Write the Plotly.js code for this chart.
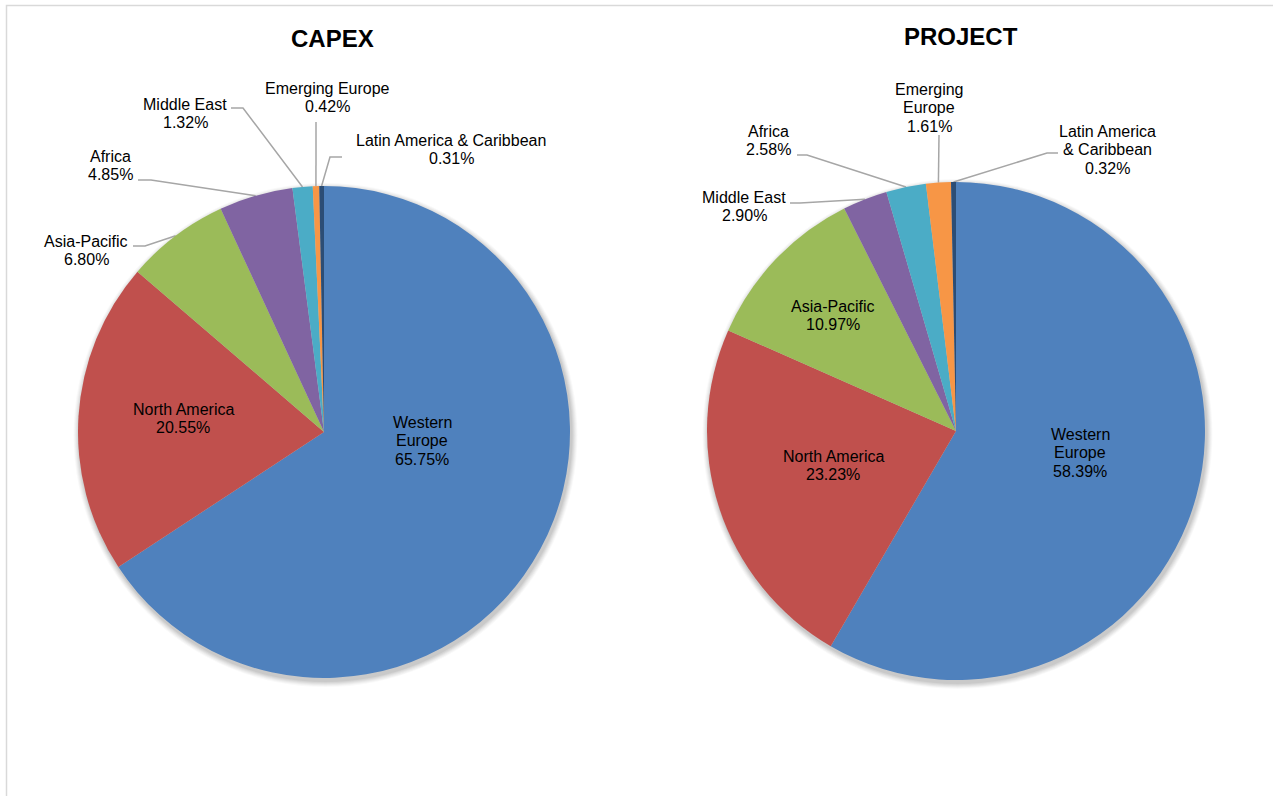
<!DOCTYPE html>
<html><head><meta charset="utf-8">
<script src="https://cdn.plot.ly/plotly-3.0.1.min.js"></script>
<style>html,body{margin:0;padding:0;background:#fff;overflow:hidden}#chart{width:1273px;height:796px;}</style>
</head><body><div id="chart"></div>
<script>
// ---------------- DATA ----------------
const chartTitles = ['CAPEX', 'PROJECT'];
const capexRegions = ['Western Europe', 'North America', 'Asia-Pacific', 'Africa', 'Middle East', 'Emerging Europe', 'Latin America & Caribbean'];
const capexShares = [65.75, 20.55, 6.80, 4.85, 1.32, 0.42, 0.31];
const projectRegions = ['Western Europe', 'North America', 'Asia-Pacific', 'Middle East', 'Africa', 'Emerging Europe', 'Latin America & Caribbean'];
const projectShares = [58.39, 23.23, 10.97, 2.90, 2.58, 1.61, 0.32];
// how each label's name is broken into lines
const capexLabelLines = [['Western', 'Europe'], ['North America'], ['Asia-Pacific'], ['Africa'], ['Middle East'], ['Emerging Europe'], ['Latin America & Caribbean']];
const projectLabelLines = [['Western', 'Europe'], ['North America'], ['Asia-Pacific'], ['Middle East'], ['Africa'], ['Emerging', 'Europe'], ['Latin America', '& Caribbean']];

// ---------------- STYLE / LAYOUT ----------------
const W = 1273, H = 796;
const sliceColors = ['#4F81BD', '#C0504D', '#9BBB59', '#8064A2', '#4BACC6', '#F79646', '#2C4D75'];
const FONT = 'Liberation Sans, Arial, sans-serif';
const LINE_H = 18.5;
const pieLayouts = [
  { cx: 324, cy: 432, r: 246, titleX: 332, titleY: 38,
    labelPos: [
      { x: 422, y: 422 },
      { x: 183, y: 409 },
      { x: 86, y: 241, leader: [[133, 246], [145, 246]] },
      { x: 110, y: 156, leader: [[138, 180], [151, 180]] },
      { x: 185, y: 104, leader: [[231, 108], [243, 108]] },
      { x: 327, y: 88, leader: [[316, 122]] },
      { x: 451, y: 140, leader: [[342, 157], [330, 157]] }
    ] },
  { cx: 956, cy: 431, r: 249, titleX: 961, titleY: 36,
    labelPos: [
      { x: 1080, y: 434 },
      { x: 833, y: 456 },
      { x: 833, y: 306 },
      { x: 744, y: 197, leader: [[790, 203], [800, 203]] },
      { x: 768, y: 131, leader: [[797, 155], [807, 155]] },
      { x: 929, y: 89, leader: [[939, 135]] },
      { x: 1107, y: 131, leader: [[1058, 153], [1047, 153]] }
    ] }
];

const datasets = [
  { labels: capexRegions, values: capexShares, lines: capexLabelLines },
  { labels: projectRegions, values: projectShares, lines: projectLabelLines }
];

const traces = [];
const annotations = [];
const shapes = [];

// chart border (left and top edges visible)
shapes.push({ type: 'path', xref: 'x', yref: 'y', path: `M 6.5 ${H} L 6.5 5.5 L ${W} 5.5`, line: { color: '#D9D9D9', width: 1.5 }, layer: 'below' });

datasets.forEach((ds, k) => {
  const L = pieLayouts[k];
  // soft shadow under the pie
  [[6, 0.025], [5, 0.03], [4, 0.035], [3, 0.04], [2, 0.045], [1, 0.05]].forEach(([g, op]) => {
    shapes.push({ type: 'circle', xref: 'x', yref: 'y', layer: 'below',
      x0: L.cx - L.r - g + 1.5, x1: L.cx + L.r + g + 1.5, y0: L.cy - L.r - g + 3, y1: L.cy + L.r + g + 3,
      fillcolor: `rgba(0,0,0,${op})`, line: { width: 0 } });
  });
  traces.push({
    type: 'pie', labels: ds.labels, values: ds.values, sort: false, direction: 'clockwise', rotation: 0,
    marker: { colors: sliceColors, line: { width: 0 } }, textinfo: 'none', hoverinfo: 'label+percent',
    showlegend: false,
    domain: { x: [(L.cx - L.r) / W, (L.cx + L.r) / W], y: [1 - (L.cy + L.r) / H, 1 - (L.cy - L.r) / H] }
  });
  annotations.push({ xref: 'x', yref: 'y', x: L.titleX, y: L.titleY, text: '<b>' + chartTitles[k] + '</b>', showarrow: false,
    xanchor: 'center', yanchor: 'middle', font: { family: FONT, size: 24, color: '#000' } });
  const total = ds.values.reduce((a, b) => a + b, 0);
  let cum = 0;
  ds.values.forEach((v, i) => {
    const mid = (cum + v / 2) / total * 2 * Math.PI;
    cum += v;
    const ex = L.cx + L.r * Math.sin(mid), ey = L.cy - L.r * Math.cos(mid);
    const pos = L.labelPos[i];
    const textLines = ds.lines[i].concat([v.toFixed(2) + '%']);
    textLines.forEach((t, j) => {
      annotations.push({ xref: 'x', yref: 'y', x: pos.x, y: pos.y + j * LINE_H, text: t, showarrow: false,
        xanchor: 'center', yanchor: 'middle', font: { family: FONT, size: 16, color: '#000' } });
    });
    if (pos.leader) {
      const pts = pos.leader.concat([[ex, ey]]);
      traces.push({ type: 'scatter', mode: 'lines', x: pts.map(p => p[0]), y: pts.map(p => p[1]),
        line: { color: '#A6A6A6', width: 1.5 }, hoverinfo: 'skip', showlegend: false });
    }
  });
});

const layout = {
  width: W, height: H, margin: { l: 0, r: 0, t: 0, b: 0 },
  paper_bgcolor: '#fff', plot_bgcolor: 'rgba(0,0,0,0)', showlegend: false,
  xaxis: { range: [0, W], visible: false, fixedrange: true, domain: [0, 1] },
  yaxis: { range: [H, 0], visible: false, fixedrange: true, domain: [0, 1] },
  annotations: annotations, shapes: shapes
};
Plotly.newPlot('chart', traces, layout, { displayModeBar: false, staticPlot: true });
</script>
</body></html>
